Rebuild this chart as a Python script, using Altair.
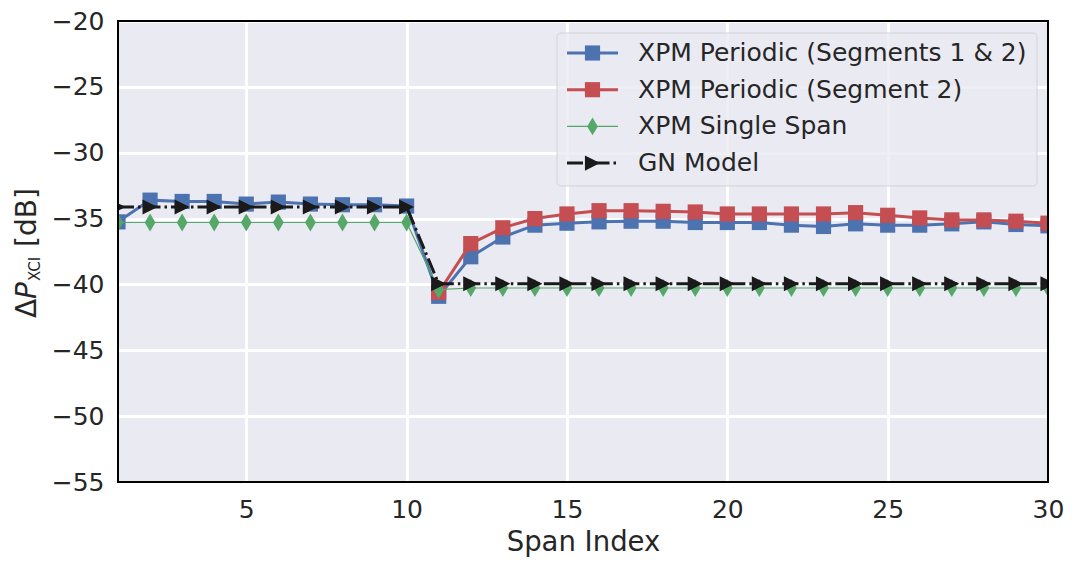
import altair as alt
import pandas as pd

# ---------------- data ----------------
spans = list(range(1, 31))
seg12_vals = [-35.25, -33.6, -33.7, -33.7, -33.9, -33.75, -33.9, -33.95, -33.95, -34.05,
              -40.9, -37.9, -36.4, -35.5, -35.35, -35.25, -35.2, -35.2, -35.3, -35.3,
              -35.3, -35.5, -35.6, -35.4, -35.5, -35.5, -35.4, -35.25, -35.45, -35.55]
seg2_spans = list(range(11, 31))
seg2_vals = [-40.6, -36.9, -35.7, -35.0, -34.65, -34.4, -34.4, -34.45, -34.5, -34.65,
             -34.65, -34.65, -34.65, -34.55, -34.75, -34.95, -35.1, -35.1, -35.2, -35.35]
single_vals = [-35.3] * 10 + [-40.4] + [-40.27] * 19
gn_vals = [-34.12] * 10 + [-39.95] * 20

labels = ["XPM Periodic (Segments 1 & 2)", "XPM Periodic (Segment 2)",
          "XPM Single Span", "GN Model"]
colors = ["#4C72B0", "#C44E52", "#55A868", "#1A1A1A"]
x_ticks = [5, 10, 15, 20, 25, 30]
y_ticks = [-55, -50, -45, -40, -35, -30, -25, -20]

# ---------------- styling ----------------
W, H = 930, 461
FONT = "DejaVu Sans"
TXT = "#262626"
tri_right = "M-1,-1L1,0L-1,1Z"
thin_diamond = "M0,-1L0.6,0L0,1L-0.6,0Z"

series = [
    (labels[0], spans, seg12_vals, colors[0], 3, None, "square", 230),
    (labels[1], seg2_spans, seg2_vals, colors[1], 3, None, "square", 230),
    (labels[2], spans, single_vals, colors[2], 1.2, None, thin_diamond, 320),
    (labels[3], spans, gn_vals, colors[3], 3, [16, 4, 2.5, 4], tri_right, 230),
]


def xenc():
    return alt.X("span:Q",
                 scale=alt.Scale(domain=[1, 30], nice=False, zero=False),
                 axis=alt.Axis(values=x_ticks, title="Span Index", labelPadding=15,
                               titlePadding=6, labelFlush=False))


def yenc():
    return alt.Y("val:Q",
                 scale=alt.Scale(domain=[-55, -20], nice=False, zero=False),
                 axis=alt.Axis(values=y_ticks, title=None, labelPadding=14,
                               labelExpr="replace(datum.label, '-', '\u2212')"))


layers = []
for name, xs, ys, col, lw, dash, shape, size in series:
    df = pd.DataFrame({"span": xs, "val": ys, "series": name})
    line_kw = dict(color=col, strokeWidth=lw, clip=True)
    if dash:
        line_kw["strokeDash"] = dash
    layers.append(alt.Chart(df).mark_line(**line_kw).encode(x=xenc(), y=yenc()))
    layers.append(alt.Chart(df).mark_point(shape=shape, size=size, filled=True, color=col,
                                           opacity=1, clip=True)
                  .encode(x=xenc(), y=yenc()))

# frame on top
one = pd.DataFrame({"k": [0]})
layers.append(alt.Chart(one).mark_rect(fillOpacity=0, stroke="black", strokeWidth=2)
              .encode(x=alt.value(0), x2=alt.value(W), y=alt.value(0), y2=alt.value(H)))

# legend box
layers.append(alt.Chart(one).mark_rect(cornerRadius=4, fill="#EAEAF2", fillOpacity=0.8,
                                       stroke="#CCCCCC", strokeOpacity=0.8, strokeWidth=1)
              .encode(x=alt.value(439), x2=alt.value(919), y=alt.value(12), y2=alt.value(165)))
row0, row_step = 32, 36.7
for i, (name, xs, ys, col, lw, dash, shape, size) in enumerate(series):
    ry = row0 + i * row_step
    ldf = pd.DataFrame({"label": [name]})
    rule_kw = dict(color=col, strokeWidth=lw)
    if dash:
        rule_kw["strokeDash"] = dash
    layers.append(alt.Chart(ldf).mark_rule(**rule_kw)
                  .encode(x=alt.value(449), x2=alt.value(500), y=alt.value(ry)))
    layers.append(alt.Chart(ldf).mark_point(shape=shape, size=size, filled=True, color=col,
                                            opacity=1)
                  .encode(x=alt.value(474.5), y=alt.value(ry)))
    layers.append(alt.Chart(ldf).mark_text(align="left", baseline="middle", font=FONT,
                                           fontSize=25, color=TXT)
                  .encode(x=alt.value(520), y=alt.value(ry), text="label:N"))

# y-axis title: ΔP_XCI [dB]
ytitle_parts = [
    ("\u0394", -82, 297, 28, "normal"),
    ("P", -82, 278, 28, "italic"),
    ("XCI", -78, 260, 15, "normal"),
    ("[dB]", -82, 226, 28, "normal"),
]
for txt, tx, ty, fs, style in ytitle_parts:
    tdf = pd.DataFrame({"t": [txt]})
    layers.append(alt.Chart(tdf).mark_text(align="left", baseline="alphabetic", angle=270,
                                           font=FONT, fontSize=fs, fontStyle=style,
                                           color=TXT)
                  .encode(x=alt.value(tx), y=alt.value(ty), text="t:N"))

chart = (alt.layer(*layers)
         .properties(width=W, height=H,
                     padding={"left": 110, "top": 13, "right": 20, "bottom": 77},
                     autosize=alt.AutoSizeParams(type="none"))
         .configure_view(fill="#EAEAF2", stroke="transparent")
         .configure_axis(grid=True, gridColor="white", gridWidth=2.8, domain=False,
                         ticks=False, labelFont=FONT, labelFontSize=25, labelColor=TXT,
                         titleFont=FONT, titleFontSize=27.5, titleColor=TXT,
                         titleFontWeight="normal"))

chart.save("out.html", embed_options={"renderer": "svg", "actions": False})
